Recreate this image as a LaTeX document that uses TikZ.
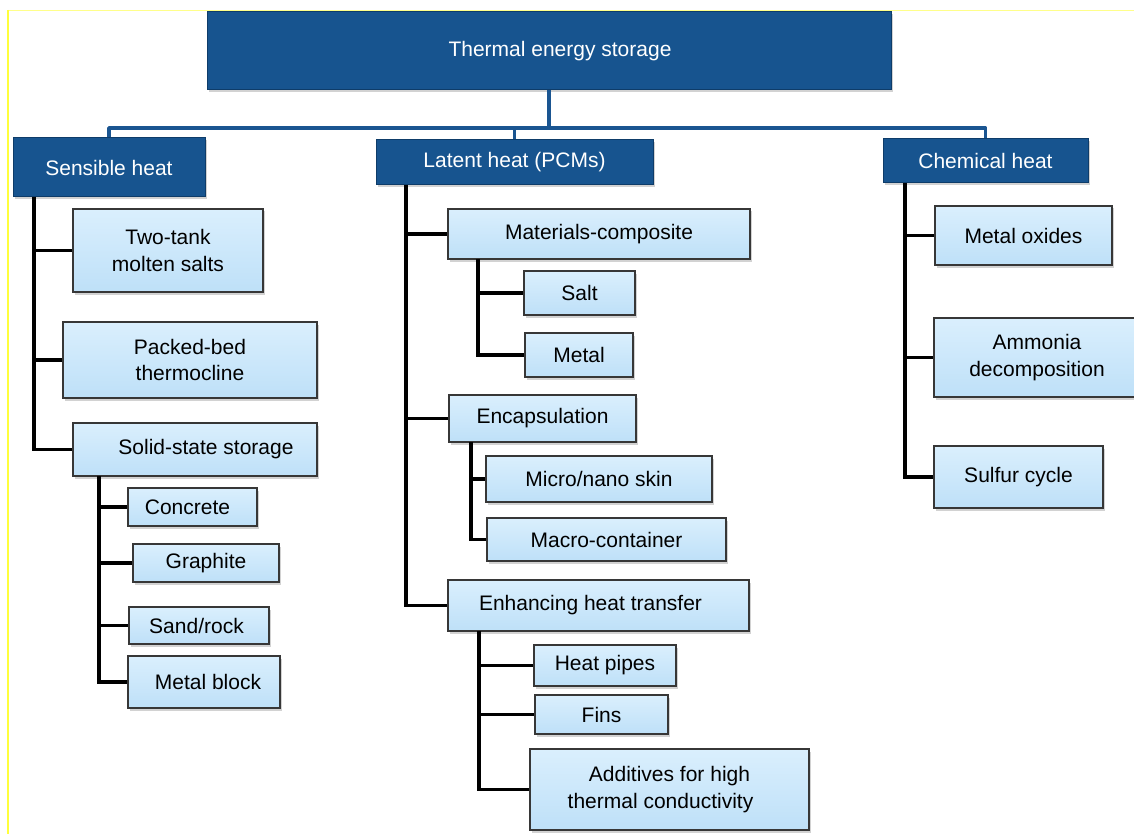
\documentclass[tikz,border=0pt]{standalone}
\usepackage{fontspec}
\setmainfont{Liberation Sans}
\usetikzlibrary{shadows}
\definecolor{darkblue}{RGB}{23,84,143}
\definecolor{darkblueedge}{RGB}{14,60,105}
\definecolor{lighttop}{RGB}{218,239,253}
\definecolor{lightbot}{RGB}{190,224,248}
\definecolor{boxedge}{RGB}{55,55,55}
\definecolor{barblue}{RGB}{26,85,145}
\definecolor{edgeyellow}{RGB}{255,255,60}
\tikzset{
  lightbox/.style={draw=boxedge, line width=1.6pt, top color=lighttop, bottom color=lightbot,
    inner sep=0pt, align=center, text=black,
    drop shadow={shadow xshift=1.5pt, shadow yshift=-2.5pt, opacity=0.35}},
  darkbox/.style={draw=darkblueedge, line width=1pt, fill=darkblue,
    inner sep=0pt, align=center, text=white,
    drop shadow={shadow xshift=1.5pt, shadow yshift=-2.5pt, opacity=0.35}},
  sz/.style 2 args={minimum width=#1pt, minimum height=#2pt},
  tree/.style={draw=black, line width=3.6pt},
  bluebar/.style={draw=barblue, line width=3.8pt},
}
\begin{document}
\begin{tikzpicture}[x=1pt, y=-1pt, font=\fontsize{21}{26.5}\selectfont]
\useasboundingbox (0,0) rectangle (1134,834);
\clip (0,0) rectangle (1134,834);
\fill[white] (0,0) rectangle (1134,834);
% faint frame lines
\draw[edgeyellow!60, line width=0.8pt] (8,10) -- (1134,10);
\draw[edgeyellow, line width=1.5pt] (8,10) -- (8,834);

% connector anchor points
\coordinate (bar) at (549,128);
\coordinate (sensT) at (34,197);
\coordinate (solidT) at (99,476);
\coordinate (latT) at (406,185);
\coordinate (matT) at (478,259);
\coordinate (encT) at (471,442);
\coordinate (enhT) at (479,631);
\coordinate (chemT) at (905,183);

% top level box
\node[darkbox, sz={684}{78}] (tes) at (549,51) {\hspace*{22pt}Thermal energy storage};

% second level
\node[darkbox, sz={192}{59}] (sens) at (109,167.5) {Sensible heat};
\node[darkbox, sz={277}{45}] (lat) at (514.5,162.5) {Latent heat (PCMs)};
\node[darkbox, sz={205}{44}] (chem) at (985.5,161) {Chemical heat};

\draw[bluebar, line join=round] (tes.south) -- (bar);
\draw[bluebar, line join=round] (sens.north) |- (bar) -| (chem.north);
\draw[bluebar] (lat.north) -- (lat.north |- bar);

% sensible heat children
\node[lightbox, sz={190}{83}] (twotank) at (168,250.5) {Two-tank\\molten salts};
\node[lightbox, sz={254}{76}] (packed) at (190,360) {Packed-bed\\thermocline};
\node[lightbox, sz={244}{53}] (solid) at (195,449.5) {\hspace*{22pt}Solid-state storage};
\node[lightbox, sz={129}{38}] (concrete) at (192.5,507) {Concrete\hspace*{10pt}};
\node[lightbox, sz={146}{38}] (graphite) at (206,563) {Graphite};
\node[lightbox, sz={140}{37}] (sand) at (199,625.5) {Sand/rock\hspace*{5pt}};
\node[lightbox, sz={152}{52}] (metalblock) at (204,682) {\hspace*{8pt}Metal block};

% latent heat children
\node[lightbox, sz={302}{50}] (matcomp) at (599,234) {Materials-composite};
\node[lightbox, sz={111}{44}] (salt) at (579.5,293) {Salt};
\node[lightbox, sz={108}{44}] (metal) at (579,355) {Metal};
\node[lightbox, sz={187}{47}] (encap) at (542.5,418.5) {Encapsulation};
\node[lightbox, sz={226}{46}] (micro) at (599,479) {Micro/nano skin};
\node[lightbox, sz={239}{43}] (macro) at (606.5,539.5) {Macro-container};
\node[lightbox, sz={301}{51}] (enh) at (598.5,605.5) {Enhancing heat transfer\hspace*{16pt}};
\node[lightbox, sz={142}{41}] (pipes) at (605,665.5) {Heat pipes};
\node[lightbox, sz={133}{39}] (fins) at (601.5,714.5) {Fins};
\node[lightbox, sz={279}{81}] (additives) at (669.5,789.5) {Additives for high\\thermal conductivity\hspace*{18pt}};

% chemical heat children
\node[lightbox, sz={177}{59}] (oxides) at (1023.5,235.5) {Metal oxides};
\node[lightbox, sz={206}{79}] (ammonia) at (1037,357.5) {Ammonia\\decomposition};
\node[lightbox, sz={169}{62}] (sulfur) at (1018.5,477) {Sulfur cycle};

% tree connectors
\draw[tree] (sensT) |- (twotank.west) (sensT) |- (packed.west) (sensT) |- (solid.west);
\draw[tree] (solidT) |- (concrete.west) (solidT) |- (graphite.west) (solidT) |- (sand.west) (solidT) |- (metalblock.west);
\draw[tree] (latT) |- (matcomp.west) (latT) |- (encap.west) (latT) |- (enh.west);
\draw[tree] (matT) |- (salt.west) (matT) |- (metal.west);
\draw[tree] (encT) |- (micro.west) (encT) |- (macro.west);
\draw[tree] (enhT) |- (pipes.west) (enhT) |- (fins.west) (enhT) |- (additives.west);
\draw[tree] (chemT) |- (oxides.west) (chemT) |- (ammonia.west) (chemT) |- (sulfur.west);
\end{tikzpicture}
\end{document}
